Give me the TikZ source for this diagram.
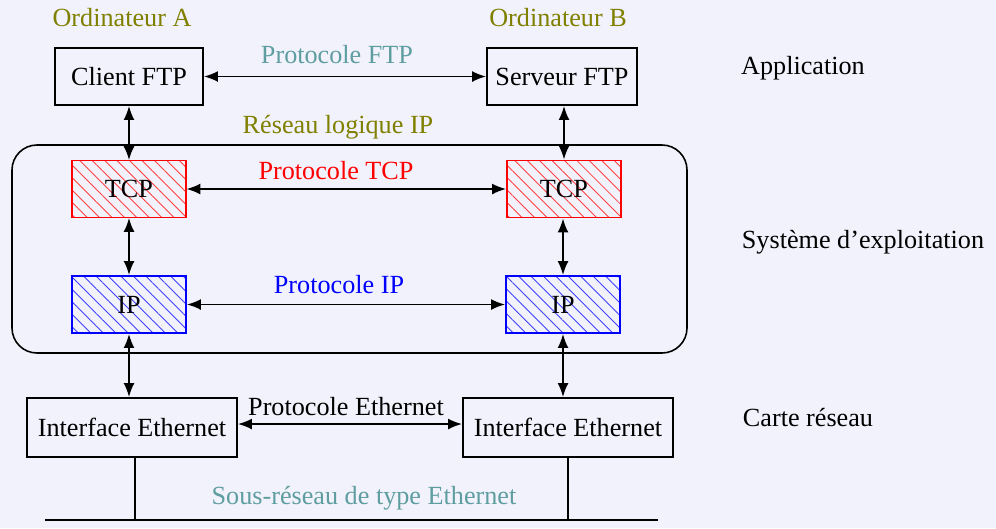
\documentclass[tikz,border=0pt]{standalone}
\usepackage{fontspec}
\setmainfont{Liberation Serif}
\definecolor{bgviolet}{RGB}{242, 242, 252}
\definecolor{olivetxt}{RGB}{128, 128, 0}
\definecolor{cadettxt}{RGB}{95, 158, 160}
\definecolor{tcpred}{RGB}{255, 0, 0}
\definecolor{ipblue}{RGB}{0, 0, 255}
\usetikzlibrary{arrows.meta, positioning, patterns.meta}

\begin{document}
\begin{tikzpicture}[
  font=\fontsize{14.9}{18}\selectfont,
  box/.style={draw, line width=1.1pt, minimum height=1.14cm, align=center, inner sep=4pt},
  hatchbox/.style={draw=#1, line width=1.1pt, minimum width=2.28cm, minimum height=1.14cm,
    pattern={Lines[angle=-45, distance=5pt, line width=0.5pt]}, pattern color=#1!75},
  arrow/.style={{Latex[length=0.28cm, width=0.22cm]}-{Latex[length=0.28cm, width=0.22cm]}, line width=1pt}
]
  % Background
  \fill[bgviolet] (0, 0) rectangle (19.92, -10.56);
  \useasboundingbox (0, 0) rectangle (19.92, -10.56);

  % Computers
  \node[olivetxt] (ordA) at (2.44, -0.36) {Ordinateur A};
  \node[olivetxt] (ordB) at (11.16, -0.36) {Ordinateur B};

  % Application layer
  \node[box, minimum width=2.96cm] (client) at (2.58, -1.53) {Client FTP};
  \node[box, minimum width=3.0cm] (serveur) at (11.24, -1.53) {Serveur FTP};
  \draw[arrow] (client) -- (serveur);
  \node[cadettxt] (lblftp) at (6.74, -1.1) {Protocole FTP};

  % Operating system
  \node[olivetxt] (lblreseau) at (6.76, -2.54) {Réseau logique IP};
  \draw[line width=0.9pt, rounded corners=0.5cm] (0.24, -2.9) rectangle (13.74, -7.06);

  \node[hatchbox=tcpred] (tcpA) at (2.58, -3.78) {TCP};
  \node[hatchbox=tcpred] (tcpB) at (11.28, -3.78) {TCP};
  \draw[arrow] (tcpA) -- (tcpB);
  \node[tcpred] (lbltcp) at (6.72, -3.42) {Protocole TCP};

  \node[hatchbox=ipblue] (ipA) at (2.58, -6.09) {IP};
  \node[hatchbox=ipblue] (ipB) at (11.26, -6.09) {IP};
  \draw[arrow] (ipA) -- (ipB);
  \node[ipblue] (lblip) at (6.78, -5.7) {Protocole IP};

  % Network card
  \node[box, minimum width=4.2cm, minimum height=1.18cm] (ethA) at (2.64, -8.55) {Interface Ethernet};
  \node[box, minimum width=4.2cm, minimum height=1.18cm] (ethB) at (11.36, -8.55) {Interface Ethernet};
  \draw[arrow] (ethA.east |- 0, -8.48) -- (ethB.west |- 0, -8.48);
  \node (lbleth) at (6.92, -8.14) {Protocole Ethernet};

  % Vertical links
  \draw[arrow] (client) -- (tcpA);
  \draw[arrow] (tcpA) -- (ipA);
  \draw[arrow] (ipA.south) -- (ipA.south |- ethA.north);
  \draw[arrow] (serveur.south -| tcpB) -- (tcpB);
  \draw[arrow] (tcpB.south -| ipB) -- (ipB);
  \draw[arrow] (ipB.south) -- (ipB.south |- ethB.north);

  % Ethernet bus
  \coordinate (busL) at (0.9, -10.4);
  \coordinate (busR) at (13.16, -10.4);
  \draw[line width=0.9pt] (busL) -- (busR);
  \draw[line width=0.9pt] (ethA.south -| 2.7, 0) -- (2.7, -10.4);
  \draw[line width=0.9pt] (ethB.south) -- (ethB.south |- busL);
  \node[cadettxt] (lblbus) at (7.28, -9.96) {Sous-réseau de type Ethernet};

  % Layers
  \node (application) at (16.06, -1.36) {Application};
  \node (systeme) at (17.26, -4.84) {Système d’exploitation};
  \node (carte) at (16.16, -8.36) {Carte réseau};
\end{tikzpicture}
\end{document}
